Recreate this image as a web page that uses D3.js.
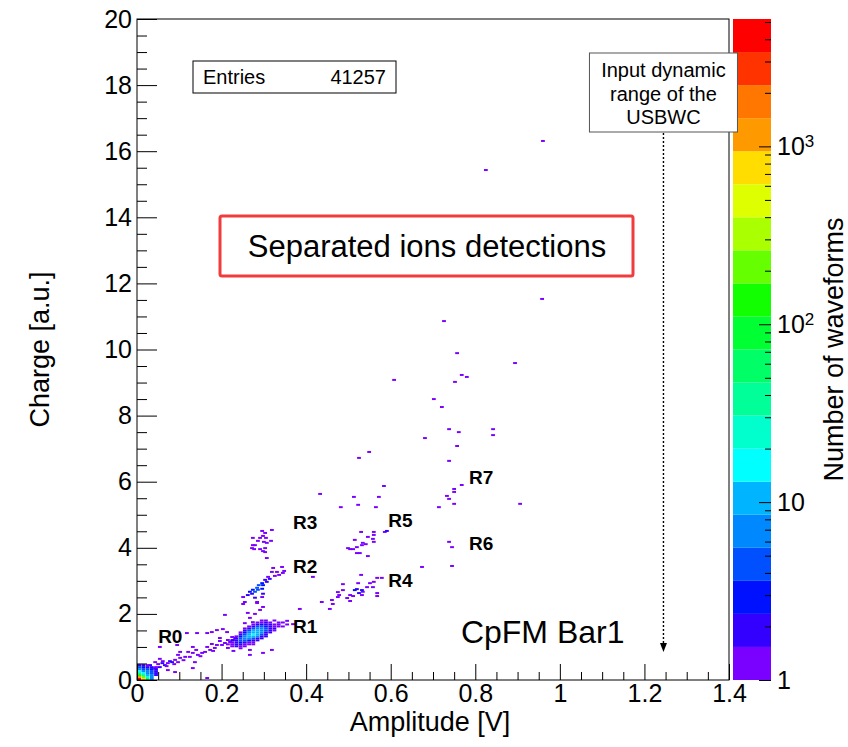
<!DOCTYPE html>
<html>
<head>
<meta charset="utf-8">
<script src="https://cdn.jsdelivr.net/npm/d3@7"></script>
<style>
  body { margin: 0; background: #fff; }
  text { font-family: "Liberation Sans", Arial, Helvetica, sans-serif; }
</style>
</head>
<body>
<div id="chart"></div>
<script>
// 2D histogram bins: [amplitude (V), charge (a.u.), entries]
const originCells = [
  [0.005,0.03,5000],[0.005,0.09,1200],[0.005,0.15,150],[0.005,0.21,40],[0.005,0.27,14],[0.005,0.33,6],
  [0.005,0.39,4],[0.005,0.45,2],
  [0.015,0.03,800],[0.015,0.09,200],[0.015,0.15,40],[0.015,0.21,15],[0.015,0.27,8],[0.015,0.33,5],
  [0.015,0.39,3],[0.015,0.45,2],
  [0.025,0.03,60],[0.025,0.09,25],[0.025,0.15,12],[0.025,0.21,8],[0.025,0.27,6],[0.025,0.33,4],
  [0.025,0.39,2],[0.025,0.45,1],
  [0.035,0.03,6],[0.035,0.09,7],[0.035,0.15,6],[0.035,0.21,5],[0.035,0.27,4],[0.035,0.33,3],[0.035,0.39,2],
  [0.045,0.15,2],[0.045,0.21,2],[0.045,0.27,2],[0.045,0.33,2],[0.045,0.39,1]
];
const r0Cells = [
  [0.043,0.36,1],[0.054,0.39,2],[0.066,0.45,2],[0.073,0.51,1],[0.083,0.54,2],[0.090,0.61,1],
  [0.102,0.67,1],[0.114,0.70,1],[0.125,0.70,1],[0.132,0.82,1],[0.144,0.76,1],[0.154,0.82,1],
  [0.161,0.85,1],[0.173,0.91,1],[0.184,0.97,1],[0.189,1.06,1],[0.201,1.06,1],[0.208,1.12,1],
  [0.220,1.15,1],[0.227,1.21,1],[0.232,1.27,1],[0.031,0.45,2],[0.050,0.48,1],[0.061,0.57,1],
  [0.060,0.51,2],[0.078,0.57,2],[0.097,0.76,1],[0.121,0.85,1],[0.140,0.91,1],[0.166,1.00,1],
  [0.177,1.09,1],[0.196,1.18,1],[0.215,1.21,1],[0.097,0.54,1],[0.137,0.54,1],[0.132,0.36,1],
  [0.073,0.30,1],[0.090,0.24,1],[0.166,0.06,1],[0.043,0.54,1],[0.054,0.64,1],[0.054,1.00,1],
  [0.118,1.42,1],[0.102,0.85,1],[0.132,1.00,1],[0.095,1.06,1],[0.166,1.42,1],[0.177,1.45,1],
  [0.142,1.42,1],[0.189,1.51,1],[0.203,1.54,1],[0.213,1.45,1],[0.225,1.30,1],[0.196,1.27,1],
  [0.070,0.42,1],[0.088,0.48,1],[0.110,0.60,1],[0.150,0.72,1],[0.180,0.88,1]
];
const r1Cells = [
  [0.245,0.96,1],[0.215,1.08,1],[0.255,1.02,1],[0.265,1.08,1],[0.275,1.08,1],
  [0.225,1.02,1],[0.235,1.02,2],[0.245,1.02,1],
  [0.225,1.08,1],[0.235,1.08,2],[0.245,1.08,2],[0.255,1.08,1],
  [0.225,1.14,1],[0.235,1.14,2],[0.245,1.14,3],[0.255,1.14,2],[0.265,1.14,1],[0.275,1.14,1],
  [0.225,1.20,2],[0.235,1.20,2],[0.245,1.20,4],[0.255,1.20,5],[0.265,1.20,3],[0.275,1.20,2],[0.285,1.20,2],
  [0.235,1.26,2],[0.245,1.26,4],[0.255,1.26,7],[0.265,1.26,8],[0.275,1.26,5],[0.285,1.26,2],[0.295,1.26,2],
  [0.235,1.32,1],[0.245,1.32,3],[0.255,1.32,6],[0.265,1.32,11],[0.275,1.32,10],[0.285,1.32,6],[0.295,1.32,2],[0.305,1.32,2],
  [0.245,1.38,2],[0.255,1.38,4],[0.265,1.38,10],[0.275,1.38,15],[0.285,1.38,9],[0.295,1.38,4],[0.305,1.38,2],
  [0.245,1.44,1],[0.255,1.44,3],[0.265,1.44,7],[0.275,1.44,13],[0.285,1.44,12],[0.295,1.44,6],[0.305,1.44,2],[0.315,1.44,2],
  [0.255,1.50,2],[0.265,1.50,4],[0.275,1.50,9],[0.285,1.50,11],[0.295,1.50,7],[0.305,1.50,4],[0.315,1.50,2],[0.325,1.50,1],
  [0.255,1.56,1],[0.265,1.56,2],[0.275,1.56,5],[0.285,1.56,7],[0.295,1.56,6],[0.305,1.56,4],[0.315,1.56,2],[0.325,1.56,2],
  [0.265,1.62,1],[0.275,1.62,2],[0.285,1.62,4],[0.295,1.62,5],[0.305,1.62,3],[0.315,1.62,2],[0.325,1.62,1],[0.335,1.62,1],
  [0.275,1.68,1],[0.285,1.68,2],[0.295,1.68,3],[0.305,1.68,2],[0.315,1.68,2],[0.325,1.68,1],[0.335,1.68,1],
  [0.285,1.74,1],[0.295,1.74,1],[0.305,1.74,2],[0.315,1.74,1],[0.335,1.74,1],[0.345,1.74,1],
  [0.295,1.80,1],[0.305,1.80,1],[0.325,1.80,1],
  [0.298,0.82,1],[0.319,0.91,1],[0.267,0.91,1],[0.267,0.76,1],[0.355,1.79,1],[0.369,1.69,1],
  [0.345,1.62,1],[0.215,0.97,1],[0.228,0.88,1],[0.355,1.68,1]
];
const r2Cells = [
  // R3 group
  [0.296,4.51,1],[0.303,4.45,1],[0.319,4.54,1],[0.298,4.36,1],[0.291,4.30,1],[0.274,4.30,1],
  [0.286,4.21,1],[0.279,4.08,1],[0.305,4.30,1],[0.300,4.18,1],[0.307,4.15,1],[0.317,4.21,1],
  [0.272,3.99,1],[0.298,3.90,1],[0.291,3.96,1],[0.277,3.96,1],[0.303,3.99,1],[0.303,3.87,1],
  [0.307,3.69,1],[0.274,4.08,1],
  // R2 group
  [0.322,3.39,1],[0.343,3.42,1],[0.348,3.30,1],[0.345,3.24,1],[0.319,3.27,1],[0.331,3.27,1],
  [0.336,3.18,1],[0.326,3.15,1],[0.310,3.12,1],[0.314,3.06,2],[0.303,3.03,2],[0.307,2.97,2],
  [0.296,2.93,3],[0.298,2.87,3],[0.288,2.87,4],[0.284,2.79,4],[0.274,2.73,3],[0.286,2.73,4],
  [0.296,2.76,3],[0.267,2.67,3],[0.272,2.61,2],[0.279,2.67,4],[0.262,2.57,2],[0.251,2.51,1],
  [0.298,2.61,2],[0.296,2.51,1],[0.279,2.49,2],[0.255,2.36,1],[0.284,2.36,1],[0.416,3.12,1],
  // trail between R1 and R2
  [0.251,2.30,1],[0.262,2.03,1],[0.267,1.88,1],[0.284,2.33,1],[0.291,2.12,1],[0.274,1.75,1],
  [0.255,1.72,1],[0.208,1.97,1],[0.385,2.15,1],[0.298,2.21,1],[0.279,2.00,1]
];
const r4Cells = [
  [0.437,2.36,1],[0.461,2.42,1],[0.478,2.57,1],[0.497,2.48,1],[0.456,2.15,1],
  [0.530,3.18,1],[0.568,3.09,1],[0.579,3.09,1],[0.560,2.97,1],[0.551,2.93,1],[0.544,2.81,1],
  [0.558,2.81,1],[0.523,2.93,1],[0.515,2.72,3],[0.520,2.75,2],[0.532,2.72,3],[0.534,2.67,1],
  [0.525,2.63,2],[0.487,2.90,1],[0.487,2.72,1],[0.475,2.66,1],[0.504,2.57,1],[0.511,2.54,1],
  [0.532,2.57,1],[0.568,2.63,1],[0.568,2.54,1],[0.475,2.51,1],[0.463,2.30,1],[0.504,2.39,1],
  [0.674,3.42,1],[0.745,3.45,1]
];
const r5Cells = [
  [0.586,4.48,1],[0.591,4.51,2],[0.530,4.48,1],[0.560,4.48,1],[0.560,4.39,1],[0.546,4.33,1],
  [0.558,4.27,1],[0.515,4.24,1],[0.560,4.18,1],[0.534,4.15,1],[0.532,4.08,1],[0.541,4.11,1],
  [0.504,3.96,1],[0.511,3.96,1],[0.520,4.02,1],[0.520,3.84,1],[0.527,3.84,1],[0.546,3.75,1],
  [0.499,3.99,1],[0.738,4.18,1],[0.745,4.02,1]
];
const upperCells = [
  [0.433,5.63,1],[0.768,5.90,1],[0.750,5.78,1],[0.750,5.69,1],[0.584,5.87,1],[0.733,5.57,1],
  [0.738,5.48,1],[0.513,5.54,1],[0.572,5.54,1],[0.750,5.33,1],[0.482,5.23,1],[0.523,5.30,1],
  [0.565,5.23,1],[0.714,5.23,1],[0.906,5.33,1],[0.549,6.90,1],[0.525,6.72,1],[0.738,6.63,1],
  [0.757,7.08,1],[0.681,7.32,1],[0.842,7.59,1],[0.842,7.41,1],[0.738,7.59,1],[0.761,7.50,1],
  [0.702,8.50,1],[0.721,8.26,1],[0.768,9.23,1],[0.780,9.17,1],[0.752,9.02,1],[0.608,9.08,1],
  [0.757,9.89,1],[0.894,9.59,1],[0.726,10.86,1],[0.958,11.53,1],[0.825,15.43,1],[0.960,16.31,1]
];

const xTicks = [0, 0.2, 0.4, 0.6, 0.8, 1, 1.2, 1.4];
const yTicks = [0, 2, 4, 6, 8, 10, 12, 14, 16, 18, 20];
const zTicks = [1, 10, 100, 1000];
const zMax = 5200;
const bandColors = ["#7a00ff","#3300ff","#0011ff","#0050ff","#0088ff","#00b4ff","#00ffff",
  "#00ffcc","#00ff99","#00ff66","#00ff33","#11ff00","#66ff00","#aaff00","#ddff00",
  "#ffdd00","#ff9900","#ff7700","#ff3300","#ff0000"];

const regionNames = ["R0","R1","R2","R3","R4","R5","R6","R7"];
const regionAmp = [0.050, 0.369, 0.369, 0.369, 0.594, 0.594, 0.785, 0.785];
const regionCharge = [1.12, 1.42, 3.24, 4.57, 2.81, 4.63, 3.93, 5.93];

const entries = 41257;
const dynRangeAmp = 1.245;
const arrowTipCharge = 0.85;

// bin size of the histogram
const binAmp = 0.009, binCharge = 0.06;

const W = 848, H = 747;
const frame = {left: 137, right: 729, top: 19, bottom: 680};
const bar = {left: 733, right: 771};

const svg = d3.select("#chart").append("svg")
    .attr("width", W)
    .attr("height", H)
    .attr("viewBox", `0 0 ${W} ${H}`);

const x = d3.scaleLinear().domain([0, 1.4]).range([frame.left, frame.right]);
const y = d3.scaleLinear().domain([0, 20]).range([frame.bottom, frame.top]);
const z = d3.scaleLog().domain([1, zMax]).range([frame.bottom, frame.top]);

const logMax = Math.log10(zMax);
const color = c => {
    const i = Math.floor(Math.log10(c) / logMax * bandColors.length);
    return bandColors[Math.max(0, Math.min(bandColors.length - 1, i))];
};

svg.append("clipPath").attr("id", "clip")
    .append("rect")
    .attr("x", frame.left).attr("y", frame.top)
    .attr("width", frame.right - frame.left).attr("height", frame.bottom - frame.top);

const cells = [].concat(upperCells, r5Cells, r4Cells, r2Cells, r0Cells, r1Cells, originCells);

svg.append("g")
    .attr("clip-path", "url(#clip)")
    .selectAll("rect")
    .data(cells)
    .enter()
    .append("rect")
    .attr("x", d => x(d[0] - binAmp / 2))
    .attr("y", d => y(d[1] + binCharge / 2))
    .attr("width", x(binAmp) - x(0))
    .attr("height", y(0) - y(binCharge))
    .attr("fill", d => color(d[2]));

// axes, ROOT style ticks pointing inside
const xMinor = d3.range(0, 1.401, 0.05).filter(v => !xTicks.some(t => Math.abs(t - v) < 1e-6));
const yMinor = d3.range(0, 20.01, 0.5).filter(v => v % 2 !== 0);

svg.append("g")
    .attr("transform", `translate(0,${frame.bottom})`)
    .call(d3.axisBottom(x).tickValues(xMinor).tickSize(-8).tickFormat(""))
    .call(g => g.select(".domain").remove());

svg.append("g")
    .attr("transform", `translate(0,${frame.bottom})`)
    .call(d3.axisBottom(x).tickValues(xTicks).tickSize(-16).tickPadding(4).tickFormat(d3.format("~g")))
    .call(g => g.select(".domain").remove())
    .call(g => g.selectAll("text").attr("font-size", 25).attr("fill", "#000"));

svg.append("g")
    .attr("transform", `translate(${frame.left},0)`)
    .call(d3.axisLeft(y).tickValues(yMinor).tickSize(-10).tickFormat(""))
    .call(g => g.select(".domain").remove());

svg.append("g")
    .attr("transform", `translate(${frame.left},0)`)
    .call(d3.axisLeft(y).tickValues(yTicks).tickSize(-20).tickPadding(5).tickFormat(d3.format("d")))
    .call(g => g.select(".domain").remove())
    .call(g => g.selectAll("text").attr("font-size", 25).attr("fill", "#000"));

svg.append("rect")
    .attr("x", frame.left).attr("y", frame.top)
    .attr("width", frame.right - frame.left).attr("height", frame.bottom - frame.top)
    .attr("fill", "none").attr("stroke", "#000").attr("stroke-width", 1);

svg.append("text")
    .attr("x", (frame.left + frame.right) / 2 - 3)
    .attr("y", 731)
    .attr("text-anchor", "middle")
    .attr("font-size", 27)
    .text("Amplitude [V]");

svg.append("text")
    .attr("transform", `translate(49,${(frame.top + frame.bottom) / 2}) rotate(-90)`)
    .attr("text-anchor", "middle")
    .attr("font-size", 27)
    .text("Charge [a.u.]");

// colour palette bar
const bandEdges = d3.range(bandColors.length + 1).map(i => Math.pow(10, i * logMax / bandColors.length));
svg.append("g")
    .selectAll("rect")
    .data(bandColors)
    .enter()
    .append("rect")
    .attr("x", bar.left)
    .attr("y", (d, i) => z(bandEdges[i + 1]))
    .attr("width", bar.right - bar.left)
    .attr("height", (d, i) => z(bandEdges[i]) - z(bandEdges[i + 1]))
    .attr("fill", d => d);

const zMinor = [];
[1, 10, 100, 1000].forEach(dec => [2,3,4,5,6,7,8,9].forEach(m => { if (m * dec <= zMax) zMinor.push(m * dec); }));

svg.append("g")
    .attr("transform", `translate(${bar.right},0)`)
    .call(d3.axisRight(z).tickValues(zMinor).tickSize(-6).tickFormat(""))
    .call(g => g.select(".domain").remove());

const zAxis = svg.append("g")
    .attr("transform", `translate(${bar.right},0)`)
    .call(d3.axisRight(z).tickValues(zTicks).tickSize(-12).tickPadding(6).tickFormat(d => d))
    .call(g => g.select(".domain").remove());

zAxis.selectAll("text")
    .attr("font-size", 25)
    .attr("fill", "#000")
    .each(function(d) {
        const t = d3.select(this);
        if (d >= 100) {
            t.text("10");
            t.append("tspan")
                .attr("dy", "-0.45em")
                .attr("font-size", 17)
                .text(Math.round(Math.log10(d)));
        }
    });

svg.append("text")
    .attr("transform", `translate(843,${(frame.top + frame.bottom) / 2}) rotate(-90)`)
    .attr("text-anchor", "middle")
    .attr("font-size", 27)
    .text("Number of waveforms");

// region labels
svg.append("g")
    .selectAll("text")
    .data(regionNames)
    .enter()
    .append("text")
    .attr("x", (d, i) => x(regionAmp[i]))
    .attr("y", (d, i) => y(regionCharge[i]))
    .attr("font-size", 19)
    .attr("font-weight", "bold")
    .text(d => d);

// stats box
svg.append("rect")
    .attr("x", 193).attr("y", 61).attr("width", 203).attr("height", 32)
    .attr("fill", "#fff").attr("stroke", "#000").attr("stroke-width", 1);
svg.append("text").attr("x", 203).attr("y", 84).attr("font-size", 20).text("Entries");
svg.append("text").attr("x", 386).attr("y", 84).attr("font-size", 20)
    .attr("text-anchor", "end").text(entries);

// highlighted caption
svg.append("rect")
    .attr("x", 220).attr("y", 216).attr("width", 413).attr("height", 60).attr("rx", 2)
    .attr("fill", "#fff").attr("stroke", "#f03c3c").attr("stroke-width", 3);
svg.append("text")
    .attr("x", 427).attr("y", 257)
    .attr("text-anchor", "middle")
    .attr("font-size", 31)
    .text("Separated ions detections");

svg.append("text")
    .attr("x", x(0.766)).attr("y", y(1.12))
    .attr("font-size", 32)
    .text("CpFM Bar1");

// dynamic range marker
const ax = x(dynRangeAmp);
svg.append("line")
    .attr("x1", ax).attr("x2", ax)
    .attr("y1", 133).attr("y2", y(arrowTipCharge) - 7)
    .attr("stroke", "#000").attr("stroke-width", 1.4)
    .attr("stroke-dasharray", "2,2");
svg.append("path")
    .attr("d", `M${ax - 3.5},${y(arrowTipCharge) - 9} L${ax + 3.5},${y(arrowTipCharge) - 9} L${ax},${y(arrowTipCharge)} Z`)
    .attr("fill", "#000");

svg.append("rect")
    .attr("x", ax - 74).attr("y", 53).attr("width", 148).attr("height", 79)
    .attr("fill", "#fff").attr("stroke", "#555").attr("stroke-width", 1);
svg.append("g")
    .selectAll("text")
    .data(["Input dynamic", "range of the", "USBWC"])
    .enter()
    .append("text")
    .attr("x", ax)
    .attr("y", (d, i) => 77 + i * 23.5)
    .attr("text-anchor", "middle")
    .attr("font-size", 20)
    .text(d => d);
</script>
</body>
</html>
